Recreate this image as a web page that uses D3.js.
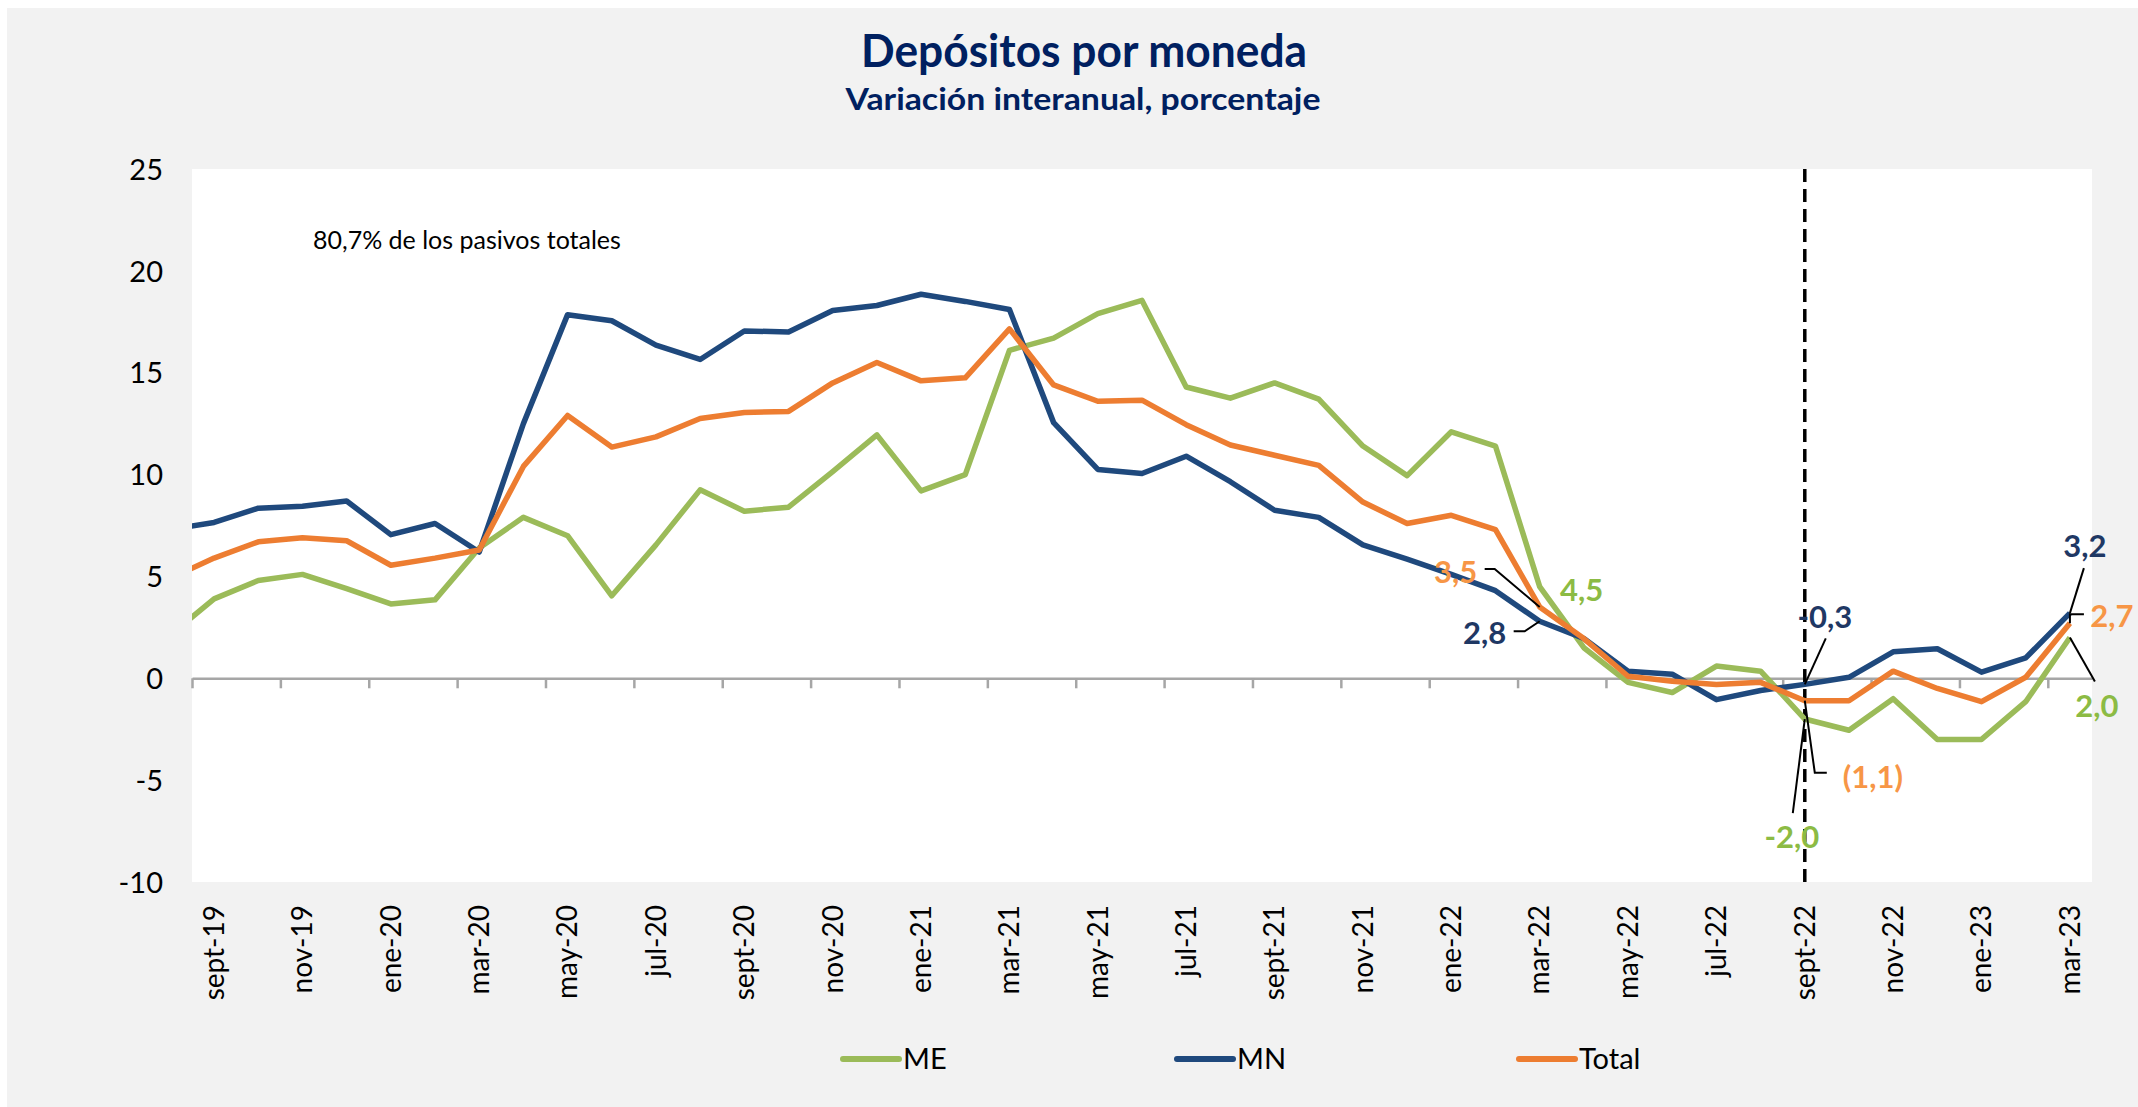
<!DOCTYPE html>
<html>
<head>
<meta charset="utf-8">
<script src="https://cdn.jsdelivr.net/npm/d3@7"></script>
<style>
  body { margin: 0; background: #ffffff; }
  svg { display: block; }
  text { font-family: Lato, "Open Sans", sans-serif; }
</style>
</head>
<body>
<svg id="chart" width="2138" height="1107"></svg>
<script>
// months, first one (ago-19) only shows as the clipped start of the lines
var months = ["ago-19", "sept-19", "oct-19", "nov-19", "dic-19", "ene-20", "feb-20", "mar-20", "abr-20", "may-20", "jun-20", "jul-20",
    "ago-20", "sept-20", "oct-20", "nov-20", "dic-20", "ene-21", "feb-21", "mar-21", "abr-21", "may-21", "jun-21", "jul-21",
    "ago-21", "sept-21", "oct-21", "nov-21", "dic-21", "ene-22", "feb-22", "mar-22", "abr-22", "may-22", "jun-22", "jul-22",
    "ago-22", "sept-22", "oct-22", "nov-22", "dic-22", "ene-23", "feb-23", "mar-23"];

var tickLabels = ["sept-19", "nov-19", "ene-20", "mar-20", "may-20", "jul-20", "sept-20", "nov-20", "ene-21", "mar-21", "may-21",
    "jul-21", "sept-21", "nov-21", "ene-22", "mar-22", "may-22", "jul-22", "sept-22", "nov-22", "ene-23", "mar-23"];

var yTicks = [-10, -5, 0, 5, 10, 15, 20, 25];

var me = [2.1, 3.9, 4.8, 5.1, 4.4, 3.65, 3.85, 6.4, 7.9, 7.0, 4.05, 6.55,
    9.25, 8.2, 8.4, 10.15, 11.95, 9.2, 10.0, 16.1, 16.7, 17.9, 18.55, 14.3,
    13.75, 14.5, 13.7, 11.4, 9.95, 12.1, 11.4, 4.5, 1.5, -0.2, -0.7, 0.6,
    0.35, -2.0, -2.55, -1.0, -3.0, -3.0, -1.15, 2.0];

var mn = [7.3, 7.65, 8.35, 8.45, 8.7, 7.05, 7.6, 6.2, 12.5, 17.85, 17.55, 16.35,
    15.65, 17.05, 17.0, 18.05, 18.3, 18.85, 18.5, 18.1, 12.55, 10.25, 10.05, 10.9,
    9.65, 8.25, 7.9, 6.55, 5.85, 5.1, 4.3, 2.8, 1.95, 0.35, 0.2, -1.05,
    -0.6, -0.3, 0.05, 1.3, 1.45, 0.3, 1.0, 3.2];

var total = [4.9, 5.9, 6.7, 6.9, 6.75, 5.55, 5.9, 6.3, 10.4, 12.9, 11.35, 11.85,
    12.75, 13.05, 13.1, 14.5, 15.5, 14.6, 14.75, 17.15, 14.4, 13.6, 13.65, 12.45,
    11.45, 10.95, 10.45, 8.65, 7.6, 8.0, 7.3, 3.5, 1.95, 0.1, -0.15, -0.3,
    -0.2, -1.1, -1.1, 0.35, -0.5, -1.15, 0.05, 2.7];

var seriesNames = ["ME", "MN", "Total"];
var seriesValues = [me, mn, total];
var lineColors = ["#9bbb59", "#1f497d", "#ed7d31"];
var labelColors = ["#8cbb44", "#1f3864", "#f79646"];

var markerMonth = "sept-22";

// data labels: series, month, text
var labels = [
    { s: 2, m: "mar-22", t: "3,5" },
    { s: 0, m: "mar-22", t: "4,5" },
    { s: 1, m: "mar-22", t: "2,8" },
    { s: 1, m: "sept-22", t: "-0,3" },
    { s: 2, m: "sept-22", t: "(1,1)" },
    { s: 0, m: "sept-22", t: "-2,0" },
    { s: 1, m: "mar-23", t: "3,2" },
    { s: 2, m: "mar-23", t: "2,7" },
    { s: 0, m: "mar-23", t: "2,0" }
];
// where each label sits relative to its point, and its leader line
var labelLayout = [
    { dx: -84, dy: -24, lead: [[-55, -38], [-45, -38], [0, 0]] },
    { dx: 42, dy: 14, lead: null },
    { dx: -55, dy: 23, lead: [[-26, 10], [-15, 10], [0, 0]] },
    { dx: 20, dy: -56, lead: [[21, -46], [0, 0]] },
    { dx: 68, dy: 87, lead: [[22, 72], [10, 72], [0, 0]] },
    { dx: -13, dy: 129, lead: [[-12, 94], [0, 0]] },
    { dx: 15, dy: -56, lead: [[14, -45], [0, 0]] },
    { dx: 42, dy: 4, lead: [[14, -9], [0, -9], [0, 0]] },
    { dx: 27, dy: 79, lead: [[25, 44], [0, 0]] }
];

var svg = d3.select("#chart");
var plotLeft = 192, plotRight = 2092, plotTop = 169, plotBottom = 882;

svg.append("rect")
    .attr("x", 7).attr("y", 8)
    .attr("width", 2131).attr("height", 1099)
    .attr("fill", "#f2f2f2");

svg.append("rect")
    .attr("x", plotLeft).attr("y", plotTop)
    .attr("width", plotRight - plotLeft).attr("height", plotBottom - plotTop)
    .attr("fill", "#ffffff");

// index scale: sept-19 (index 1) centred in first slot
var x = d3.scaleLinear().domain([0.5, months.length - 0.5]).range([plotLeft, plotRight]);
var y = d3.scaleLinear().domain([-10, 25]).range([plotBottom, plotTop]);
var xm = function(m) { return x(months.indexOf(m)); };

svg.append("text")
    .attr("x", 1084).attr("y", 67)
    .attr("text-anchor", "middle")
    .attr("font-size", 46).attr("font-weight", "bold")
    .attr("fill", "#002060")
    .attr("textLength", 446).attr("lengthAdjust", "spacingAndGlyphs")
    .text("Depósitos por moneda");

svg.append("text")
    .attr("x", 1083).attr("y", 110)
    .attr("text-anchor", "middle")
    .attr("font-size", 31).attr("font-weight", "bold")
    .attr("fill", "#002060")
    .attr("textLength", 475).attr("lengthAdjust", "spacingAndGlyphs")
    .text("Variación interanual, porcentaje");

// y axis labels, no axis line
var yAxis = svg.append("g")
    .attr("transform", "translate(" + (plotLeft - 29) + ",0)")
    .call(d3.axisLeft(y).tickValues(yTicks).tickSize(0).tickPadding(0)
        .tickFormat(function(d) { return String(d); }));
yAxis.select(".domain").remove();
yAxis.selectAll("text")
    .attr("font-size", 29).attr("fill", "#000")
    .attr("font-family", "Lato, sans-serif")
    .attr("dy", "0.35em");

// zero line with ticks at slot borders
var xTickPos = tickLabels.map(function(m) { return months.indexOf(m) - 0.5; });
var xAxis = svg.append("g")
    .attr("transform", "translate(0," + y(0) + ")")
    .call(d3.axisBottom(x).tickValues(xTickPos).tickSize(10).tickSizeOuter(0).tickFormat(""));
xAxis.select(".domain").attr("stroke", "#a6a6a6").attr("stroke-width", 2.5);
xAxis.selectAll(".tick line").attr("stroke", "#a6a6a6").attr("stroke-width", 2.5);

// month labels, rotated
svg.append("g").selectAll("text")
    .data(tickLabels)
    .join("text")
    .attr("transform", function(d) { return "translate(" + xm(d) + ",905) rotate(-90)"; })
    .attr("text-anchor", "end")
    .attr("dy", "0.35em")
    .attr("font-size", 28)
    .attr("fill", "#000")
    .text(function(d) { return d; });

svg.append("text")
    .attr("x", 313).attr("y", 249)
    .attr("font-size", 25)
    .attr("fill", "#000")
    .text("80,7% de los pasivos totales");

// dashed marker
svg.append("line")
    .attr("x1", xm(markerMonth)).attr("x2", xm(markerMonth))
    .attr("y1", plotTop).attr("y2", plotBottom)
    .attr("stroke", "#000").attr("stroke-width", 3.5)
    .attr("stroke-dasharray", "13,7");

svg.append("clipPath").attr("id", "plotclip")
    .append("rect")
    .attr("x", plotLeft).attr("y", plotTop)
    .attr("width", plotRight - plotLeft).attr("height", plotBottom - plotTop);

var line = d3.line()
    .x(function(d, i) { return x(i); })
    .y(function(d) { return y(d); });

svg.append("g").attr("clip-path", "url(#plotclip)")
    .selectAll("path")
    .data(seriesValues)
    .join("path")
    .attr("d", line)
    .attr("fill", "none")
    .attr("stroke", function(d, i) { return lineColors[i]; })
    .attr("stroke-width", 5.5)
    .attr("stroke-linejoin", "round");

// data labels
labels.forEach(function(l, i) {
    var px = xm(l.m);
    var py = y(seriesValues[l.s][months.indexOf(l.m)]);
    var lay = labelLayout[i];
    if (lay.lead) {
        svg.append("path")
            .attr("d", d3.line()(lay.lead.map(function(p) { return [px + p[0], py + p[1]]; })))
            .attr("fill", "none")
            .attr("stroke", "#000")
            .attr("stroke-width", 2);
    }
    svg.append("text")
        .attr("x", px + lay.dx).attr("y", py + lay.dy)
        .attr("text-anchor", "middle")
        .attr("font-size", 31).attr("font-weight", "bold")
        .attr("fill", labelColors[l.s])
        .text(l.t);
});

// legend
var legendX = [843, 1177, 1519];
var legend = svg.append("g").selectAll("g")
    .data(seriesNames)
    .join("g")
    .attr("transform", function(d, i) { return "translate(" + legendX[i] + ",1059)"; });
legend.append("line")
    .attr("x1", 0).attr("x2", 56)
    .attr("stroke", function(d, i) { return lineColors[i]; })
    .attr("stroke-width", 6)
    .attr("stroke-linecap", "round");
legend.append("text")
    .attr("x", 60).attr("dy", "0.36em")
    .attr("font-size", 29)
    .attr("fill", "#000")
    .text(function(d) { return d; });
</script>
</body>
</html>
